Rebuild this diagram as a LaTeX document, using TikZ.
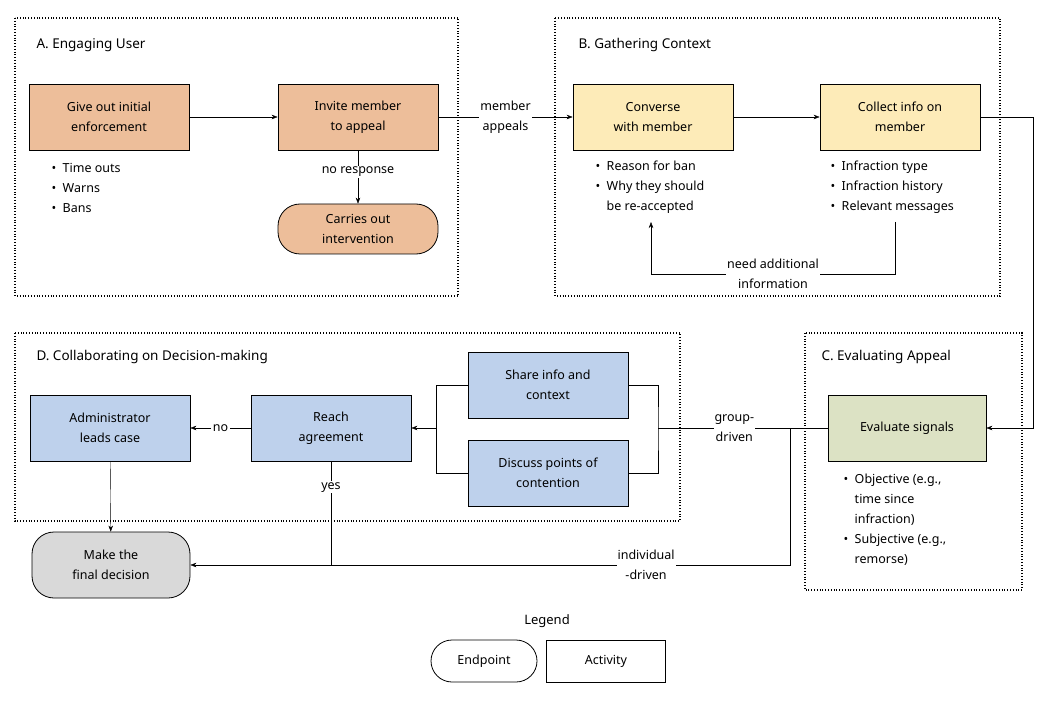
\documentclass[tikz,border=0pt]{standalone}
\usepackage{fontspec}
\setmainfont{Noto Sans}
\usetikzlibrary{positioning,arrows.meta}
\definecolor{engage}{HTML}{EDBE9A}
\definecolor{gather}{HTML}{FDEBB8}
\definecolor{evaluate}{HTML}{DCE2C4}
\definecolor{collab}{HTML}{BED1EC}
\definecolor{final}{HTML}{D9D9D9}
\newcommand{\blist}[1]{\begin{tabular}{@{}l@{\ \ }l@{}}#1\end{tabular}}
\tikzset{
  activity/.style={draw, thick, minimum width=160pt, minimum height=66pt, align=center, font=\fontsize{12.5}{20}\selectfont},
  endpoint/.style={activity, rounded corners=22pt},
  stage/.style={draw, thick, dotted, line width=1.6pt},
  title/.style={anchor=west, font=\fontsize{13.5}{16}\selectfont\bfseries},
  lbl/.style={font=\fontsize{12.5}{20}\selectfont, align=center},
  notes/.style={anchor=north west, font=\fontsize{12.5}{20}\selectfont},
  flow/.style={-{Stealth[length=6pt]}},
}
\begin{document}
\begin{tikzpicture}[x=1pt,y=-1pt]
	\useasboundingbox (0,0) rectangle (1054,708);

	% stage frames
	\draw[stage] (15,18) rectangle (458,296);
	\draw[stage] (555,18) rectangle (1000,296);
	\draw[stage] (805,333) rectangle (1022,590);
	\draw[stage] (15,333) rectangle (680,521);
	\node[title] (ta) at (33,45) {A. Engaging User};
	\node[title] (tb) at (575,45) {B. Gathering Context};
	\node[title] (tc) at (818,357) {C. Evaluating Appeal};
	\node[title] (td) at (33,357) {D. Collaborating on Decision-making};

	% A
	\node[activity, fill=engage] (give) at (109,117) {Give out initial\\enforcement};
	\node[activity, fill=engage] (invite) at (358,117) {Invite member\\to appeal};
	\node[endpoint, fill=engage, minimum height=50pt] (carry) at (358,229) {Carries out\\intervention};
	\node[notes] (givenotes) at (48,155) {\blist{\textbullet & Time outs\\ \textbullet & Warns\\ \textbullet & Bans}};

	% B
	\node[activity, fill=gather] (converse) at (653,117) {Converse\\with member};
	\node[activity, fill=gather] (collect) at (900,117) {Collect info on\\member};
	\node[notes] (connotes) at (592,153) {\blist{\textbullet & Reason for ban\\ \textbullet & Why they should\\ & be re-accepted}};
	\node[notes] (colnotes) at (827,153) {\blist{\textbullet & Infraction type\\ \textbullet & Infraction history\\ \textbullet & Relevant messages}};
	\coordinate (fbr) at (895,272);
	\coordinate (fbl) at (651,272);
	\node[lbl, fill=white, inner sep=1pt] (need) at (773,274) {need additional\\information};

	% C
	\node[activity, fill=evaluate, minimum width=158pt] (signals) at (907,428) {Evaluate signals};
	\node[notes] (signotes) at (840,466) {\blist{\textbullet & Objective (e.g.,\\ & time since\\ & infraction)\\ \textbullet & Subjective (e.g.,\\ & remorse)}};

	% D
	\node[activity, fill=collab] (share) at (548,385) {Share info and\\context};
	\node[activity, fill=collab] (discuss) at (548,473) {Discuss points of\\contention};
	\node[activity, fill=collab] (reach) at (331,428) {Reach\\agreement};
	\node[activity, fill=collab] (admin) at (110,428) {Administrator\\leads case};
	\node[endpoint, fill=final, minimum width=158pt] (decide) at (111,565) {Make the\\final decision};

	% legend
	\node[font=\fontsize{13}{16}\selectfont\bfseries] (legend) at (547,621) {Legend};
	\node[endpoint, minimum width=106pt, minimum height=42pt, rounded corners=21pt] (lend) at (484,661) {Endpoint};
	\node[activity, minimum width=119pt, minimum height=42pt] (lact) at (606,661) {Activity};

	% connectors
	\draw[flow] (give) -- (invite);
	\draw[flow] (invite) -- node[lbl, fill=white, inner sep=1pt, pos=0.4] {no response} (carry);
	\draw[flow] (invite) -- node[lbl, fill=white, inner sep=1pt] {member\\appeals} (converse);
	\draw[flow] (converse) -- (collect);
	\draw (collect.south -| fbr) ++(0,70) coordinate (fbt);
	\draw (895,222) |- (need.east);
	\draw[flow] (need.west) -| (651,222);
	\draw[flow] (collect.east) -- ++(53,0) |- (signals.east);
	\coordinate (grp) at (658,428);
	\coordinate (ind) at (790,428);
	\draw (signals.west) -- node[lbl, fill=white, inner sep=1pt, pos=0.55] {group-\\driven} (grp);
	\draw (share.east) -| (grp) |- (discuss.east);
	\draw (share.west) -- ++(-31,0) coordinate (brk) |- (discuss.west);
	\draw[flow] (brk |- reach) -- (reach);
	\draw[flow] (reach) -- node[lbl, fill=white, inner sep=2pt] {no} (admin);
	\draw[flow] (admin) -- (decide);
	\draw[flow] (ind) |- node[lbl, fill=white, inner sep=1pt, pos=0.62] {individual\\-driven} (decide.east);
	\draw (reach) -- node[lbl, fill=white, inner sep=1pt, pos=0.25] {yes} (reach.south |- decide.east);
\end{tikzpicture}
\end{document}
